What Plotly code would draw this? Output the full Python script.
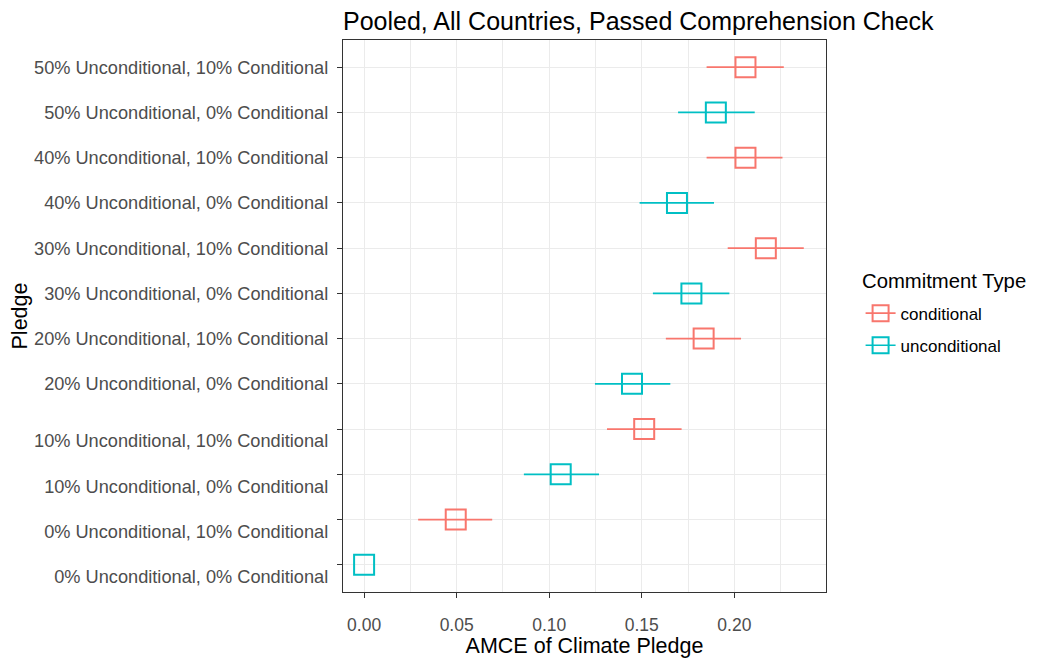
import plotly.graph_objects as go

# Categories (bottom to top)
categories = [
    "0% Unconditional, 0% Conditional",
    "0% Unconditional, 10% Conditional",
    "10% Unconditional, 0% Conditional",
    "10% Unconditional, 10% Conditional",
    "20% Unconditional, 0% Conditional",
    "20% Unconditional, 10% Conditional",
    "30% Unconditional, 0% Conditional",
    "30% Unconditional, 10% Conditional",
    "40% Unconditional, 0% Conditional",
    "40% Unconditional, 10% Conditional",
    "50% Unconditional, 0% Conditional",
    "50% Unconditional, 10% Conditional",
]
# Tick labels as drawn (the lower four are displaced by a leading line break)
tick_labels = [
    " <br>0% Unconditional, 0% Conditional",
    " <br>0% Unconditional, 10% Conditional",
    " <br>10% Unconditional, 0% Conditional",
    " <br>10% Unconditional, 10% Conditional",
    "20% Unconditional, 0% Conditional",
    "20% Unconditional, 10% Conditional",
    "30% Unconditional, 0% Conditional",
    "30% Unconditional, 10% Conditional",
    "40% Unconditional, 0% Conditional",
    "40% Unconditional, 10% Conditional",
    "50% Unconditional, 0% Conditional",
    "50% Unconditional, 10% Conditional",
]

# conditional series
cond_pledges = [categories[1], categories[3], categories[5], categories[7], categories[9], categories[11]]
cond_amce = [0.0495, 0.1513, 0.1834, 0.2170, 0.2060, 0.2060]
cond_lower = [0.0292, 0.1312, 0.1630, 0.1964, 0.1850, 0.1850]
cond_upper = [0.0692, 0.1715, 0.2036, 0.2375, 0.2260, 0.2267]

# unconditional series
uncond_pledges = [categories[0], categories[2], categories[4], categories[6], categories[8], categories[10]]
uncond_amce = [0.0, 0.1062, 0.1447, 0.1768, 0.1690, 0.1900]
uncond_lower = [None, 0.0863, 0.1247, 0.1560, 0.1488, 0.1696]
uncond_upper = [None, 0.1269, 0.1654, 0.1973, 0.1890, 0.2110]

x_ticks = [0.0, 0.05, 0.10, 0.15, 0.20]
x_tick_labels = ["0.00", "0.05", "0.10", "0.15", "0.20"]

legend_title = "Commitment Type"
chart_title = "Pooled, All Countries, Passed Comprehension Check"

COND = "#F8766D"
UNCOND = "#00BFC4"
FONT = "Liberation Sans, Arial, Helvetica, sans-serif"

# page body has an 8px margin; figure is sized so the page does not overflow the window
W, H = 1021, 650


def err(vals, lo, hi):
    plus = [None if h is None else h - v for v, h in zip(vals, hi)]
    minus = [None if l is None else v - l for v, l in zip(vals, lo)]
    return plus, minus


fig = go.Figure()
for name, ys, xs, lo, hi, col in [
    ("conditional", cond_pledges, cond_amce, cond_lower, cond_upper, COND),
    ("unconditional", uncond_pledges, uncond_amce, uncond_lower, uncond_upper, UNCOND),
]:
    plus, minus = err(xs, lo, hi)
    fig.add_trace(go.Scatter(
        x=xs, y=ys, mode="markers", name=name, showlegend=False,
        marker=dict(symbol="square-open", size=20, color=col, line=dict(width=2, color=col)),
        error_x=dict(type="data", array=plus, arrayminus=minus, symmetric=False,
                     width=0, thickness=1.7, color=col),
    ))
    # legend entry (box with a line through it)
    fig.add_trace(go.Scatter(
        x=[None], y=[None], mode="lines+markers", name=name, legendgroup=name,
        marker=dict(symbol="square-open", size=20, color=col, line=dict(width=2, color=col)),
        line=dict(color=col, width=1.7),
    ))

fig.update_layout(
    width=W, height=H,
    margin=dict(l=335, r=W - 335 - 483, t=32, b=H - 32 - 552, autoexpand=False),
    paper_bgcolor="white", plot_bgcolor="white",
    font=dict(family=FONT, color="black"),
    title=dict(text=chart_title,
               x=335 / W, xanchor="left", y=1 - 13 / H, yanchor="middle",
               font=dict(size=25, color="black", family=FONT)),
    legend=dict(
        font=dict(size=17, color="black"),
        x=1.0716, xanchor="left", y=0.537, yanchor="top",
        tracegroupgap=7, bgcolor="rgba(0,0,0,0)",
    ),
    showlegend=True,
    annotations=[dict(
        text=legend_title, xref="paper", yref="paper",
        x=(852 - 335) / 483, xanchor="left",
        y=1 - (273 - 32) / 552, yanchor="middle",
        showarrow=False, font=dict(size=20.3, color="black", family=FONT),
    )],
)

fig.update_xaxes(
    range=[-0.0114, 0.2495],
    tickmode="array", tickvals=x_ticks, ticktext=x_tick_labels,
    tickfont=dict(size=17.5, color="#4D4D4D"),
    ticks="outside", ticklen=5, tickwidth=1, tickcolor="#333333",
    ticklabelstandoff=12,
    showgrid=True, gridcolor="#EBEBEB", gridwidth=1.2,
    minor=dict(tickmode="array", tickvals=[0.025, 0.075, 0.125, 0.175, 0.225],
               showgrid=True, gridcolor="#EBEBEB", gridwidth=0.6, ticks=""),
    zeroline=False, automargin=False,
    showline=True, linecolor="#333333", linewidth=1.2, mirror=True,
    title=dict(text="AMCE of Climate Pledge", font=dict(size=21.5, color="black"), standoff=8),
)
fig.update_yaxes(
    type="category", categoryorder="array", categoryarray=categories,
    range=[-0.6, 11.6],
    tickmode="array", tickvals=categories, ticktext=tick_labels,
    tickfont=dict(size=18.2, color="#4D4D4D"),
    ticks="outside", ticklen=5, tickwidth=1, tickcolor="#333333",
    ticklabelstandoff=5,
    showgrid=True, gridcolor="#EBEBEB", gridwidth=1.2,
    zeroline=False, automargin=False,
    showline=True, linecolor="#333333", linewidth=1.2, mirror=True,
    title=dict(text="Pledge", font=dict(size=21.5, color="black"), standoff=5),
)

fig.write_html("out.html")
